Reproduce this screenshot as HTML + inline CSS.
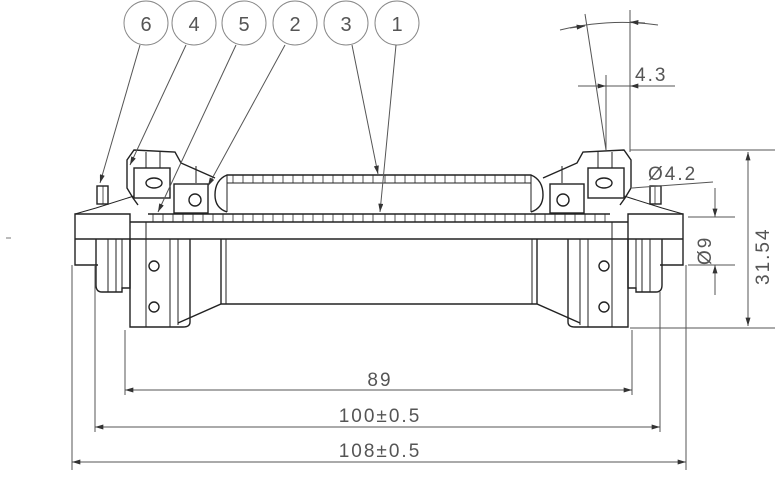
<!DOCTYPE html>
<html><head><meta charset="utf-8"><style>
html,body{margin:0;padding:0;background:#fff;}
svg{display:block;}
text{font-family:"Liberation Sans",sans-serif;fill:#555;}
</style></head><body>
<svg width="775" height="482" viewBox="0 0 775 482" xmlns="http://www.w3.org/2000/svg">
<defs>
<marker id="a" viewBox="0 0 10 6" refX="10" refY="3" markerWidth="12" markerHeight="5" orient="auto-start-reverse" markerUnits="userSpaceOnUse"><path d="M0,0 L10,3 L0,6 z" fill="#333"/></marker>
<pattern id="tk" width="10" height="8" patternUnits="userSpaceOnUse"><line x1="5" y1="0" x2="5" y2="8" stroke="#555" stroke-width="1"/></pattern>
<g id="half" fill="none" stroke="#222" stroke-width="1.4">
  <!-- outer tube 3 -->
  <rect x="379" y="175" width="152" height="8" fill="url(#tk)" stroke="none"/>
  <path d="M379,175 H531 Q543,180 543,195 Q543,208 531,212"/>
  <line x1="379" y1="183" x2="531" y2="183" stroke-width="1"/>
  <line x1="531" y1="175" x2="531" y2="212" stroke-width="1"/>
  <!-- bearing cup -->
  <path d="M543,178 L577,163 L583,152 L624,150 L631,160 L631,188 L625,198 L620,205"/>
  <line x1="562" y1="166" x2="562" y2="183" stroke-width="1"/>
  <!-- bearing -->
  <rect x="550" y="184" width="34" height="29"/>
  <circle cx="563" cy="200" r="6"/>
  <!-- cone / block -->
  <rect x="588" y="168" width="36" height="30"/>
  <ellipse cx="604" cy="183" rx="8" ry="5"/>
  <line x1="598" y1="152" x2="598" y2="168" stroke-width="1"/>
  <line x1="612" y1="152" x2="612" y2="168" stroke-width="1"/>
  <!-- dust cap slope -->
  <path d="M624,196 L662,208 L683,214" stroke-width="1"/>
  <rect x="650" y="186" width="11" height="18" fill="url(#tk)"/>
  <!-- inner tube 1 -->
  <rect x="379" y="214" width="231" height="8" fill="url(#tk)" stroke="none"/>
  <line x1="379" y1="214" x2="610" y2="214"/>
  <!-- axle -->
  <line x1="379" y1="222" x2="628" y2="222"/>
  <line x1="379" y1="239" x2="683" y2="239"/>
  <path d="M628,222 V214 H683 V265 H660"/>
  <!-- hub body -->
  <path d="M379,304 H537 L580,323"/>
  <line x1="537" y1="239" x2="537" y2="304"/>
  <line x1="532" y1="239" x2="532" y2="304" stroke-width="1"/>
  <path d="M568,239 V322 Q568,327 575,327 H628 V222"/>
  <line x1="580" y1="239" x2="580" y2="325" stroke-width="1"/>
  <line x1="588" y1="239" x2="588" y2="327" stroke-width="1"/>
  <line x1="612" y1="222" x2="612" y2="327" stroke-width="1"/>
  <circle cx="604" cy="266" r="5"/>
  <circle cx="604" cy="307" r="5"/>
  <!-- locknut -->
  <path d="M628,239 V288 H636 V292 H656 Q662,292 662,285 V239"/>
  <line x1="636" y1="239" x2="636" y2="288" stroke-width="1"/>
  <line x1="642" y1="239" x2="642" y2="292" stroke-width="1"/>
  <line x1="650" y1="239" x2="650" y2="292" stroke-width="1"/>
</g>
</defs>
<use href="#half"/>
<use href="#half" transform="translate(758,0) scale(-1,1)"/>
<line x1="379" y1="175" x2="379" y2="175"/>

<!-- balloons -->
<g fill="none" stroke="#888" stroke-width="1">
<circle cx="146" cy="23" r="22"/><circle cx="194" cy="23" r="22"/><circle cx="244" cy="23" r="22"/>
<circle cx="295" cy="23" r="22"/><circle cx="346" cy="23" r="22"/><circle cx="397" cy="23" r="22"/>
</g>
<g font-size="20" text-anchor="middle">
<text x="146" y="31">6</text><text x="194" y="31">4</text><text x="244" y="31">5</text>
<text x="295" y="31">2</text><text x="346" y="31">3</text><text x="397" y="31">1</text>
</g>
<!-- leaders -->
<g stroke="#555" stroke-width="1" fill="none">
<line x1="140" y1="45" x2="100" y2="183" marker-end="url(#a)"/>
<line x1="186" y1="45" x2="130" y2="165" marker-end="url(#a)"/>
<line x1="236" y1="45" x2="158" y2="212" marker-end="url(#a)"/>
<line x1="285" y1="45" x2="208" y2="186" marker-end="url(#a)"/>
<line x1="352" y1="45" x2="378" y2="174" marker-end="url(#a)"/>
<line x1="396" y1="45" x2="380" y2="212" marker-end="url(#a)"/>
</g>

<!-- bottom dimensions -->
<g stroke="#555" stroke-width="1" fill="none">
<line x1="125" y1="330" x2="125" y2="395"/><line x1="632" y1="330" x2="632" y2="395"/>
<line x1="95" y1="265" x2="95" y2="432"/><line x1="660" y1="292" x2="660" y2="432"/>
<line x1="72" y1="265" x2="72" y2="470"/><line x1="686" y1="265" x2="686" y2="470"/>
<line x1="125" y1="390" x2="632" y2="390" marker-start="url(#a)" marker-end="url(#a)"/>
<line x1="95" y1="427" x2="660" y2="427" marker-start="url(#a)" marker-end="url(#a)"/>
<line x1="72" y1="462" x2="686" y2="462" marker-start="url(#a)" marker-end="url(#a)"/>
</g>
<g font-size="19" text-anchor="middle" letter-spacing="2">
<text x="380" y="386">89</text>
<text x="380" y="422">100±0.5</text>
<text x="380" y="457">108±0.5</text>
</g>

<!-- right dimensions -->
<g stroke="#555" stroke-width="1" fill="none">
<line x1="630" y1="150" x2="775" y2="150"/>
<line x1="630" y1="328" x2="775" y2="328"/>
<line x1="748" y1="152" x2="748" y2="326" marker-start="url(#a)" marker-end="url(#a)"/>
<line x1="688" y1="217" x2="735" y2="217"/>
<line x1="688" y1="265" x2="735" y2="265"/>
<line x1="715" y1="188" x2="715" y2="217" marker-end="url(#a)"/>
<line x1="715" y1="295" x2="715" y2="265" marker-end="url(#a)"/>
<line x1="630" y1="10" x2="630" y2="152"/>
<line x1="606" y1="75" x2="606" y2="150"/>
<line x1="585" y1="14" x2="606" y2="150"/>
<line x1="578" y1="86" x2="675" y2="86"/>
<line x1="606" y1="86" x2="590" y2="86" marker-start="url(#a)"/>
<line x1="630" y1="86" x2="645" y2="86" marker-start="url(#a)"/>
<path d="M560,30 Q610,18 658,25"/>
<line x1="585" y1="26" x2="570" y2="28" marker-start="url(#a)"/>
<line x1="630" y1="22" x2="645" y2="23" marker-start="url(#a)"/>
<line x1="632" y1="188" x2="713" y2="182"/>
</g>
<g font-size="19" letter-spacing="2">
<text x="635" y="81">4.3</text>
<text x="648" y="180">Ø4.2</text>
<text transform="translate(711,265) rotate(-90)">Ø9</text>
<text transform="translate(769,285) rotate(-90)">31.54</text>
</g>
<line x1="6" y1="238" x2="11" y2="238" stroke="#777"/>
</svg>
</body></html>
